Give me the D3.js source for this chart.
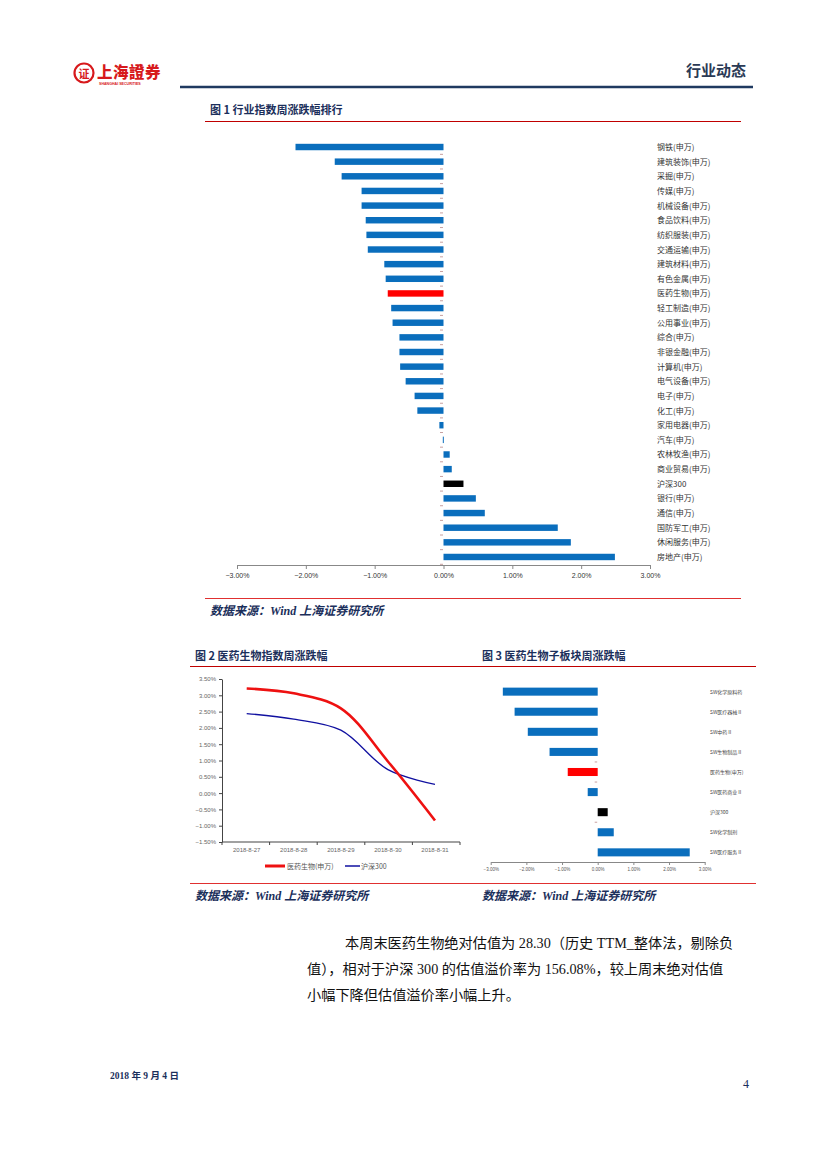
<!DOCTYPE html>
<html><head><meta charset="utf-8">
<script src="https://cdn.jsdelivr.net/npm/d3@7"></script>
<style>
html,body{margin:0;padding:0;background:#fff;}
svg{display:block;}
</style></head>
<body>
<script>
// ---------- DATA ----------
const fig1Categories = ["钢铁(申万)","建筑装饰(申万)","采掘(申万)","传媒(申万)","机械设备(申万)","食品饮料(申万)","纺织服装(申万)","交通运输(申万)","建筑材料(申万)","有色金属(申万)","医药生物(申万)","轻工制造(申万)","公用事业(申万)","综合(申万)","非银金融(申万)","计算机(申万)","电气设备(申万)","电子(申万)","化工(申万)","家用电器(申万)","汽车(申万)","农林牧渔(申万)","商业贸易(申万)","沪深300","银行(申万)","通信(申万)","国防军工(申万)","休闲服务(申万)","房地产(申万)"];
const fig1Values = [-2.15,-1.58,-1.48,-1.19,-1.19,-1.13,-1.12,-1.10,-0.86,-0.84,-0.81,-0.76,-0.74,-0.64,-0.64,-0.63,-0.55,-0.42,-0.38,-0.06,-0.01,0.09,0.12,0.29,0.47,0.60,1.66,1.85,2.49];
const fig1Ticks = [-3,-2,-1,0,1,2,3];

const fig2Dates = ["2018-8-27","2018-8-28","2018-8-29","2018-8-30","2018-8-31"];
const fig2Pharma = [3.21,3.06,2.60,0.97,-0.84];
const fig2HS300 = [2.44,2.27,1.93,0.72,0.27];
const fig2Ticks = [3.5,3.0,2.5,2.0,1.5,1.0,0.5,0.0,-0.5,-1.0,-1.5];
const fig2SeriesNames = ["医药生物(申万)","沪深300"];

const fig3Categories = ["SW化学原料药","SW医疗器械Ⅱ","SW中药Ⅱ","SW生物制品Ⅱ","医药生物(申万)","SW医药商业Ⅱ","沪深300","SW化学制剂","SW医疗服务Ⅱ"];
const fig3Values = [-2.66,-2.33,-1.96,-1.35,-0.84,-0.28,0.28,0.45,2.58];
const fig3Ticks = [-3,-2,-1,0,1,2,3];

// ---------- STYLE ----------
const BLUE = "#0A6EBD", RED = "#FF0000", BLACK = "#000000", NAVY = "#1B2F5B";
const CJK = "'Noto Sans CJK SC','Noto Sans',sans-serif";
const SERIF = "'Liberation Serif','Noto Sans CJK SC',serif";
const barColor = c => c === "医药生物(申万)" ? RED : (c === "沪深300" ? BLACK : BLUE);
const pct = v => d3.format(".2f")(v) + "%";

const svg = d3.select("body").append("svg").attr("width",827).attr("height",1169);

// ---------- HEADER ----------
const logo = svg.append("g");
logo.append("circle").attr("cx",84).attr("cy",73).attr("r",9.5).attr("fill","none").attr("stroke","#D7191C").attr("stroke-width",2.2);
logo.append("text").attr("x",84).attr("y",77.5).attr("text-anchor","middle").attr("font-family",CJK).attr("font-weight",700).attr("font-size",11).attr("fill","#D7191C").text("证");
logo.append("text").attr("x",97).attr("y",78).attr("font-family",CJK).attr("font-weight",900).attr("font-size",15.5).attr("fill","#D7191C").attr("letter-spacing",0.5).text("上海證券");
logo.append("text").attr("x",99).attr("y",84.5).attr("font-family","'Liberation Sans',sans-serif").attr("font-weight",700).attr("font-size",3.6).attr("fill","#D7191C").text("SHANGHAI SECURITIES");
svg.append("text").attr("x",746).attr("y",76).attr("text-anchor","end").attr("font-family",CJK).attr("font-weight",700).attr("font-size",15).attr("fill","#2B3A55").text("行业动态");
svg.append("line").attr("x1",180).attr("x2",753).attr("y1",87).attr("y2",87).attr("stroke","#1F3A60").attr("stroke-width",2.4);

function title(x,y,t){
  svg.append("text").attr("x",x).attr("y",y).attr("font-family",CJK).attr("font-weight",700).attr("font-size",11).attr("fill",NAVY).text(t);
}
function source(x,y){
  svg.append("text").attr("x",x).attr("y",y).attr("font-family",SERIF).attr("font-weight",700).attr("font-style","italic").attr("font-size",12).attr("fill",NAVY).text("数据来源：Wind  上海证券研究所");
}
function hline(x1,x2,y,c,w){
  svg.append("line").attr("x1",x1).attr("x2",x2).attr("y1",y).attr("y2",y).attr("stroke",c).attr("stroke-width",w||1);
}

// ---------- FIGURE 1 ----------
title(210,114,"图 1 行业指数周涨跌幅排行");
hline(205,741,121.5,"#C00000",1);
{
  const x = d3.scaleLinear().domain([-3,3]).range([237,650]);
  const y = d3.scaleBand().domain(fig1Categories).range([139.7,564.3]).paddingInner(0.56).paddingOuter(0.28);
  const g = svg.append("g");
  // category ticks at zero
  const step = y.step();
  fig1Categories.forEach((c,i)=>{
    g.append("line").attr("x1",x(0)-3.5).attr("x2",x(0)-0.5)
      .attr("y1",139.7+i*step + step).attr("y2",139.7+i*step+step)
      .attr("stroke","#C8A0A0").attr("stroke-width",1);
  });
  g.selectAll("rect").data(fig1Values).join("rect")
    .attr("x",(d)=>x(Math.min(0,d))).attr("width",d=>Math.max(1,Math.abs(x(d)-x(0))))
    .attr("y",(d,i)=>y(fig1Categories[i])).attr("height",y.bandwidth())
    .attr("fill",(d,i)=>barColor(fig1Categories[i]));
  g.selectAll("text.cat").data(fig1Categories).join("text").attr("class","cat")
    .attr("x",657).attr("y",d=>y(d)+y.bandwidth()/2+3)
    .attr("font-family",CJK).attr("font-size",8).attr("fill","#333").text(d=>d);
  const ax = svg.append("g").attr("transform","translate(0,565)")
    .call(d3.axisBottom(x).tickValues(fig1Ticks).tickFormat(pct).tickSize(4).tickSizeOuter(0));
  ax.select(".domain").attr("stroke","#888");
  ax.selectAll(".tick line").attr("stroke","#888");
  ax.selectAll("text").attr("font-family","'Liberation Sans',sans-serif").attr("font-size",7).attr("fill","#333").attr("dy","0.9em");
}
hline(205,741,598.5,"#E03030",1);
source(210,615);

// ---------- FIGURE 2 ----------
title(195,660,"图 2 医药生物指数周涨跌幅");
title(482,660,"图 3 医药生物子板块周涨跌幅");
hline(190,756,666.5,"#C00000",1);
{
  const x = d3.scalePoint().domain(fig2Dates).range([246.7,435]);
  const y = d3.scaleLinear().domain([-1.5,3.5]).range([842,679]);
  const ay = svg.append("g").attr("transform","translate(222,0)")
    .call(d3.axisLeft(y).tickValues(fig2Ticks).tickFormat(pct).tickSize(3).tickSizeOuter(0));
  ay.select(".domain").attr("stroke","#444");
  ay.selectAll(".tick line").attr("stroke","#444");
  ay.selectAll("text").attr("font-family","'Liberation Sans',sans-serif").attr("font-size",6).attr("fill","#666");
  const ax = svg.append("g").attr("transform","translate(0,842)");
  ax.append("line").attr("x1",222).attr("x2",460).attr("stroke","#444").attr("stroke-width",1.2);
  const xt = d3.scaleLinear().domain([0,5]).range([222,460]);
  d3.range(6).forEach(i=>ax.append("line").attr("x1",xt(i)).attr("x2",xt(i)).attr("y1",0).attr("y2",3).attr("stroke","#444"));
  fig2Dates.forEach(d=>ax.append("text").attr("x",x(d)).attr("y",10).attr("text-anchor","middle")
    .attr("font-family","'Liberation Sans',sans-serif").attr("font-size",6).attr("fill","#666").text(d));
  const line = d3.line().x((d,i)=>x(fig2Dates[i])).y(d=>y(d)).curve(d3.curveCatmullRom.alpha(0.5));
  svg.append("path").datum(fig2HS300).attr("d",line).attr("fill","none").attr("stroke","#1010A0").attr("stroke-width",1.3);
  svg.append("path").datum(fig2Pharma).attr("d",line).attr("fill","none").attr("stroke","#EE1111").attr("stroke-width",2.6);
  // legend
  svg.append("line").attr("x1",265).attr("x2",285).attr("y1",866).attr("y2",866).attr("stroke","#EE1111").attr("stroke-width",3);
  svg.append("text").attr("x",287).attr("y",868.5).attr("font-family",CJK).attr("font-size",7).attr("fill","#555").text(fig2SeriesNames[0]);
  svg.append("line").attr("x1",345).attr("x2",360).attr("y1",866).attr("y2",866).attr("stroke","#1010A0").attr("stroke-width",1.5);
  svg.append("text").attr("x",361).attr("y",868.5).attr("font-family",CJK).attr("font-size",7).attr("fill","#555").text(fig2SeriesNames[1]);
}

// ---------- FIGURE 3 ----------
{
  const x = d3.scaleLinear().domain([-3,3]).range([490.7,704.7]);
  const y = d3.scaleBand().domain(fig3Categories).range([681.6,862.4]).paddingInner(0.6).paddingOuter(0.3);
  const g = svg.append("g");
  const step = y.step();
  [4,5,7].forEach(i=>g.append("line").attr("x1",x(0)-3).attr("x2",x(0)-0.5)
     .attr("y1",681.6+i*step).attr("y2",681.6+i*step).attr("stroke","#C8A0A0"));
  g.selectAll("rect").data(fig3Values).join("rect")
    .attr("x",d=>x(Math.min(0,d))).attr("width",d=>Math.abs(x(d)-x(0)))
    .attr("y",(d,i)=>y(fig3Categories[i])).attr("height",y.bandwidth())
    .attr("fill",(d,i)=>barColor(fig3Categories[i]));
  g.selectAll("text.cat").data(fig3Categories).join("text").attr("class","cat")
    .attr("x",710).attr("y",d=>y(d)+y.bandwidth()/2+2)
    .attr("font-family",CJK).attr("font-size",5).attr("fill","#444").text(d=>d);
  const ax = svg.append("g").attr("transform","translate(0,862)")
    .call(d3.axisBottom(x).tickValues(fig3Ticks).tickFormat(pct).tickSize(3).tickSizeOuter(0));
  ax.select(".domain").attr("stroke","#888");
  ax.selectAll(".tick line").attr("stroke","#888");
  ax.selectAll("text").attr("font-family","'Liberation Sans',sans-serif").attr("font-size",4.5).attr("fill","#555").attr("dy","0.6em");
}
hline(190,756,883.5,"#E03030",1);
source(195,900);
source(482,900);

// ---------- BODY TEXT ----------
const body = [
  {x:345, y:948, t:"本周末医药生物绝对估值为 28.30（历史 TTM_整体法，剔除负"},
  {x:307, y:974, t:"值），相对于沪深 300 的估值溢价率为 156.08%，较上周末绝对估值"},
  {x:307, y:1000, t:"小幅下降但估值溢价率小幅上升。"}
];
body.forEach(b=>svg.append("text").attr("x",b.x).attr("y",b.y).attr("font-family",SERIF).attr("font-size",14.2).attr("fill","#111").text(b.t));

// ---------- FOOTER ----------
svg.append("text").attr("x",110).attr("y",1079).attr("font-family",SERIF).attr("font-weight",700).attr("font-size",9.5).attr("fill","#1B2F5B").text("2018 年 9 月 4 日");
svg.append("text").attr("x",749).attr("y",1088).attr("text-anchor","end").attr("font-family",SERIF).attr("font-size",12).attr("fill","#1B2F5B").text("4");
</script>
</body></html>
